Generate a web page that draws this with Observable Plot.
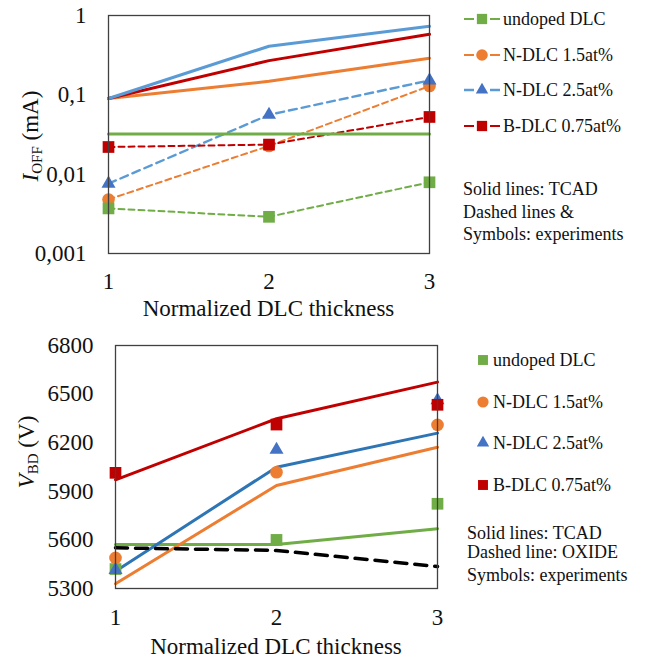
<!DOCTYPE html>
<html>
<head>
<meta charset="utf-8">
<script src="https://cdn.jsdelivr.net/npm/d3@7"></script>
<script src="https://cdn.jsdelivr.net/npm/@observablehq/plot@0.6"></script>
<style>
  html, body { margin: 0; padding: 0; background: #fff; }
  #chart { width: 646px; height: 661px; position: relative; }
  #chart svg { display: block; }
</style>
</head>
<body>
<div id="chart"></div>
<script>
// ---------- data ----------
const thickness = [1, 2, 3];
const seriesNames = ["undoped DLC", "N-DLC 1.5at%", "N-DLC 2.5at%", "B-DLC 0.75at%"];

// I_OFF (mA) – TCAD (solid lines)
const ioffTcadUndoped = [0.032, 0.032, 0.032];
const ioffTcadN15 = [0.09, 0.148, 0.29];
const ioffTcadN25 = [0.09, 0.41, 0.73];
const ioffTcadB075 = [0.09, 0.27, 0.58];
// I_OFF (mA) – experiments (dashed lines & symbols)
const ioffExpUndoped = [0.0037, 0.0029, 0.0079];
const ioffExpN15 = [0.0048, 0.0227, 0.129];
const ioffExpN25 = [0.0076, 0.056, 0.152];
const ioffExpB075 = [0.022, 0.0236, 0.0526];

// V_BD (V) – TCAD (solid lines)
const vbdTcadUndoped = [5572, 5572, 5669];
const vbdTcadN15 = [5329, 5936, 6172];
const vbdTcadN25 = [5407, 6049, 6259];
const vbdTcadB075 = [5971, 6348, 6574];
// V_BD (V) – OXIDE (dashed line)
const vbdOxide = [5551, 5535, 5436];
// V_BD (V) – experiments (symbols)
const vbdExpUndoped = [5420, 5600, 5823];
const vbdExpN15 = [5489, 6018, 6310];
const vbdExpN25 = [5415, 6156, 6462];
const vbdExpB075 = [6014, 6312, 6434];

const ioffTicks = [0.001, 0.01, 0.1, 1];
const ioffTickLabels = ["0,001", "0,01", "0,1", "1"];
const vbdTicks = [5300, 5600, 5900, 6200, 6500, 6800];
const vbdTickLabels = ["5300", "5600", "5900", "6200", "6500", "6800"];
const xTicks = [1, 2, 3];
const xTitle = "Normalized DLC thickness";
const topNotes = ["Solid lines: TCAD", "Dashed lines &", "Symbols: experiments"];
const bottomNotes = ["Solid lines: TCAD", "Dashed line: OXIDE", "Symbols: experiments"];

// ---------- styling ----------
const GREEN = "#70AD47", ORANGE = "#ED7D31", LBLUE = "#5B9BD5", MBLUE = "#4472C4", DBLUE = "#2E75B6", RED = "#C00000";
const FONT = "'Liberation Serif', 'Times New Roman', serif";
const rows = (vals) => thickness.map((t, i) => ({x: t, v: vals[i]}));

const symR = {square: 6.6, circle: 6.3, triangle: 5.2};

// ---------- top panel ----------
const W = 646;
const topM = {top: 15, bottom: 67, left: 108, right: 217};
const topH = 320;

const expTop = [
  {name: seriesNames[1], vals: ioffExpN15, color: ORANGE, mark: ORANGE, symbol: "circle", dash: "6,4", w: 2},
  {name: seriesNames[0], vals: ioffExpUndoped, color: GREEN, mark: GREEN, symbol: "square", dash: "6,4", w: 2},
  {name: seriesNames[2], vals: ioffExpN25, color: LBLUE, mark: MBLUE, symbol: "triangle", dash: "8,5", w: 2.4},
  {name: seriesNames[3], vals: ioffExpB075, color: RED, mark: RED, symbol: "square", dash: "6,4", w: 2}
];
const tcadTop = [
  {vals: ioffTcadUndoped, color: GREEN},
  {vals: ioffTcadN15, color: ORANGE},
  {vals: ioffTcadB075, color: RED},
  {vals: ioffTcadN25, color: LBLUE}
];

const topPlot = Plot.plot({
  width: W, height: topH,
  marginTop: topM.top, marginBottom: topM.bottom, marginLeft: topM.left, marginRight: topM.right,
  style: {fontFamily: FONT, fontSize: "23px", color: "#111", background: "#fff", overflow: "visible"},
  x: {domain: [1, 3], ticks: xTicks, tickFormat: d => String(d), tickSize: 0, tickPadding: 19, label: null},
  y: {type: "log", domain: [0.001, 1], ticks: ioffTicks,
      tickFormat: d => ioffTickLabels[ioffTicks.indexOf(d)], tickSize: 0, tickPadding: 22, label: null},
  marks: [
    ...expTop.map(s => Plot.line(rows(s.vals), {x: "x", y: "v", stroke: s.color, strokeWidth: s.w, strokeDasharray: s.dash})),
    ...tcadTop.map(s => Plot.line(rows(s.vals), {x: "x", y: "v", stroke: s.color, strokeWidth: 3})),
    ...expTop.map(s => Plot.dot(rows(s.vals), {x: "x", y: "v", fill: s.mark, symbol: s.symbol, r: symR[s.symbol]})),
    Plot.frame({stroke: "#404040", strokeWidth: 1.3})
  ]
});

// ---------- bottom panel ----------
const botM = {top: 25, bottom: 73, left: 115, right: 209};
const botH = 341;

const tcadBot = [
  {vals: vbdTcadUndoped, color: GREEN},
  {vals: vbdTcadN15, color: ORANGE},
  {vals: vbdTcadN25, color: DBLUE},
  {vals: vbdTcadB075, color: RED}
];
const expBot = [
  {name: seriesNames[0], vals: vbdExpUndoped, color: GREEN, symbol: "square"},
  {name: seriesNames[1], vals: vbdExpN15, color: ORANGE, symbol: "circle"},
  {name: seriesNames[2], vals: vbdExpN25, color: MBLUE, symbol: "triangle"},
  {name: seriesNames[3], vals: vbdExpB075, color: RED, symbol: "square"}
];

const botPlot = Plot.plot({
  width: W, height: botH,
  marginTop: botM.top, marginBottom: botM.bottom, marginLeft: botM.left, marginRight: botM.right,
  style: {fontFamily: FONT, fontSize: "23px", color: "#111", background: "#fff", overflow: "visible"},
  x: {domain: [1, 3], ticks: xTicks, tickFormat: d => String(d), tickSize: 0, tickPadding: 20, label: null},
  y: {domain: [5300, 6800], ticks: vbdTicks,
      tickFormat: d => vbdTickLabels[vbdTicks.indexOf(d)], tickSize: 0, tickPadding: 22, label: null},
  marks: [
    ...tcadBot.map(s => Plot.line(rows(s.vals), {x: "x", y: "v", stroke: s.color, strokeWidth: 3})),
    Plot.line(rows(vbdOxide), {x: "x", y: "v", stroke: "#000", strokeWidth: 3.5, strokeDasharray: "12,8"}),
    ...expBot.map(s => Plot.dot(rows(s.vals), {x: "x", y: "v", fill: s.color, symbol: s.symbol, r: symR[s.symbol]})),
    Plot.frame({stroke: "#404040", strokeWidth: 1.3})
  ]
});

// ---------- annotations (titles, legends) ----------
function addYLabel(svg, x, y, main, sub, rest) {
  const t = d3.select(svg).append("text")
    .attr("transform", `translate(${x},${y}) rotate(-90)`)
    .attr("text-anchor", "middle")
    .attr("font-family", FONT).attr("font-size", 23).attr("fill", "#111");
  t.append("tspan").attr("font-style", "italic").text(main);
  t.append("tspan").attr("font-size", 15).attr("dy", 4).text(sub);
  t.append("tspan").attr("dy", -4).text(rest);
}
function addXTitle(svg, m, y) {
  d3.select(svg).append("text")
    .attr("x", (m.left + W - m.right) / 2).attr("y", y)
    .attr("text-anchor", "middle")
    .attr("font-family", FONT).attr("font-size", 23).attr("fill", "#111")
    .text(xTitle);
}
function symbolPath(name, r) {
  const t = {square: d3.symbolSquare, circle: d3.symbolCircle, triangle: d3.symbolTriangle}[name];
  return d3.symbol(t, r * r * Math.PI)();
}

// top panel extras
addYLabel(topPlot, 38, 136, "I", "OFF", " (mA)");
addXTitle(topPlot, topM, 316);
{
  const g = d3.select(topPlot).append("g").attr("font-family", FONT).attr("font-size", 18)
    .attr("fill", "#111").attr("text-anchor", "start");
  const order = [1, 0, 2, 3].map(i => expTop[i]); // undoped, N15, N25, B075
  const ys = [19, 55, 90, 126];
  order.forEach((s, i) => {
    const y = ys[i];
    g.append("line").attr("x1", 464).attr("x2", 500).attr("y1", y).attr("y2", y)
      .attr("stroke", s.color).attr("stroke-width", s.w).attr("stroke-dasharray", "10,16,10");
    g.append("path").attr("d", symbolPath(s.symbol, s.symbol === "triangle" ? 4.6 : 5.8))
      .attr("transform", `translate(482,${y})`).attr("fill", s.mark);
    g.append("text").attr("x", 503).attr("y", y).attr("dy", "0.33em").text(s.name);
  });
  [189, 212, 234].forEach((y, i) => {
    g.append("text").attr("x", 463).attr("y", y).attr("dy", "0.33em").text(topNotes[i]);
  });
}

// bottom panel extras (svg offset 320)
addYLabel(botPlot, 34, 452 - 320, "V", "BD", " (V)");
addXTitle(botPlot, botM, 654 - 320);
{
  const g = d3.select(botPlot).append("g").attr("font-family", FONT).attr("font-size", 18)
    .attr("fill", "#111").attr("text-anchor", "start");
  const ys = [360, 402, 443, 485].map(v => v - 320);
  expBot.forEach((s, i) => {
    const y = ys[i];
    g.append("path").attr("d", symbolPath(s.symbol, s.symbol === "triangle" ? 4.6 : 5.6))
      .attr("transform", `translate(483,${y})`).attr("fill", s.color);
    g.append("text").attr("x", 493).attr("y", y).attr("dy", "0.33em").text(s.name);
  });
  [533, 552, 575].map(v => v - 320).forEach((y, i) => {
    g.append("text").attr("x", 467).attr("y", y).attr("dy", "0.33em").text(bottomNotes[i]);
  });
}

const chart = document.getElementById("chart");
chart.appendChild(topPlot);
chart.appendChild(botPlot);
</script>
</body>
</html>
